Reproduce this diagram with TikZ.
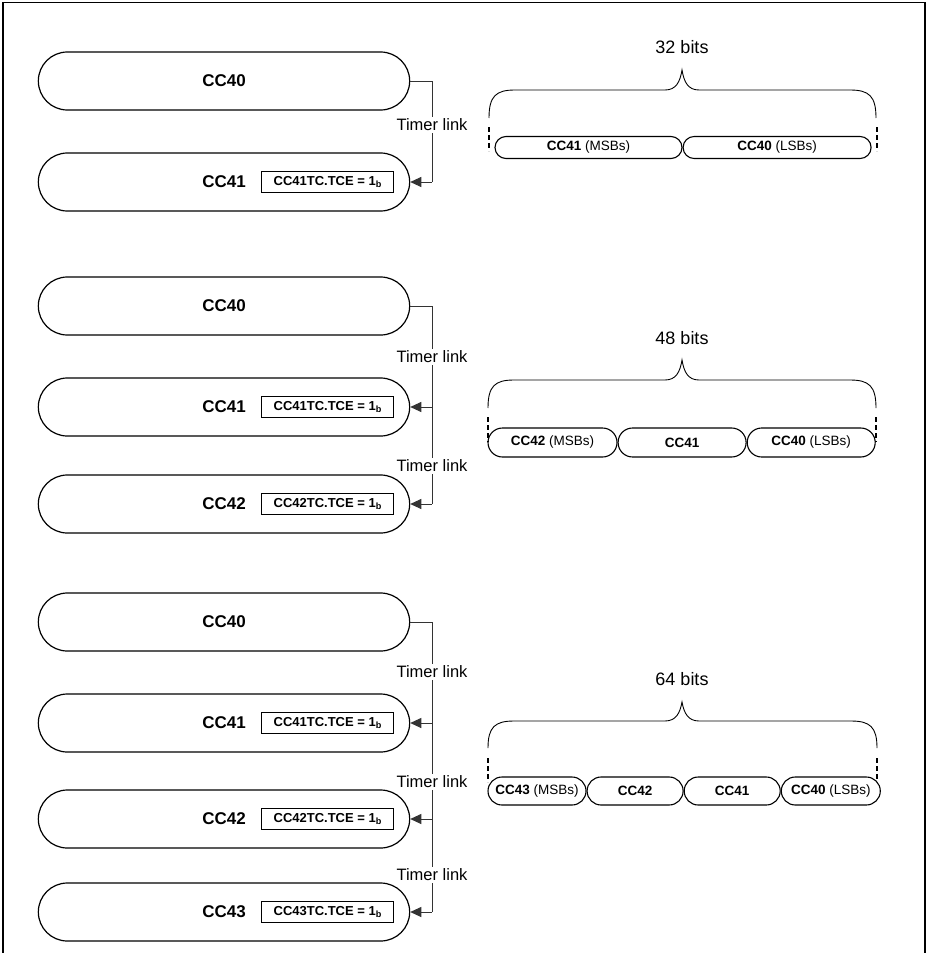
\documentclass[tikz,border=0pt]{standalone}
\usepackage{fontspec}
\setmainfont{Liberation Sans}
\usepackage{tikz}
\usetikzlibrary{shapes.misc, positioning, arrows.meta}

\begin{document}
\begin{tikzpicture}[x=1pt, y=-1pt,
  ccpill/.style={rounded rectangle, draw, line width=1.2pt,
    minimum width=378pt, minimum height=58pt,
    font=\fontsize{17}{20}\selectfont\bfseries},
  tcebox/.style={rectangle, draw, line width=1pt, inner sep=0pt,
    minimum width=132pt, minimum height=21pt,
    font=\fontsize{13}{15}\selectfont\bfseries},
  link/.style={draw=black!80, line width=0.9pt},
  linkarrow/.style={link, -{Triangle[length=11pt, width=10pt]}},
  linklabel/.style={fill=white, inner sep=1.5pt, font=\fontsize{16.5}{18}\selectfont},
  bitpill/.style={rounded rectangle, draw, line width=1.1pt, inner xsep=0pt,
    font=\fontsize{13.5}{15}\selectfont},
  bitlabel/.style={font=\fontsize{18}{20}\selectfont},
  bitbrace/.style={line width=0.9pt},
  edgemark/.style={line width=1.8pt, dash pattern=on 5pt off 3pt}
]
  \useasboundingbox (0,0) rectangle (926,953);
  \draw[line width=1.5pt] (3,953) -- (3,2.5) -- (925,2.5) -- (925,953);

  % 32 bits
  \node[ccpill] (g1c40) at (224,81) {CC40};
  \node[ccpill] (g1c41) at (224,182) {CC41};
  \node[tcebox, left=16pt of g1c41.east] (g1t41) {CC41TC.TCE = 1\textsubscript{b}};
  \coordinate (g1top) at (432,81);
  \draw[link] (g1c40.east) -- (g1top) -- (g1top |- g1c41.east);
  \draw[linkarrow] (g1top |- g1c41.east) -- (g1c41.east);
  \node[linklabel] (g1l1) at (432,125) {Timer link};

  \node[bitlabel] (g1bits) at (682,47) {32 bits};
  \draw[bitbrace] (489,118) .. controls (489,96) and (496,90) .. (515,90) -- (665,90)
    .. controls (676,90) and (680,82) .. (682,70) .. controls (684,82) and (688,90) .. (699,90)
    -- (850,90) .. controls (869,90) and (876,96) .. (876,118);
  \draw[edgemark] (489,127) -- (489,151);
  \draw[edgemark] (877,127) -- (877,151);
  \node[bitpill, minimum width=187pt, minimum height=22pt] (g1b41) at (588.5,147.5) {\textbf{CC41} (MSBs)};
  \node[bitpill, minimum width=188pt, minimum height=22pt, right=0pt of g1b41] (g1b40) {\textbf{CC40} (LSBs)};

  % 48 bits
  \node[ccpill] (g2c40) at (224,306) {CC40};
  \node[ccpill] (g2c41) at (224,407) {CC41};
  \node[tcebox, left=16pt of g2c41.east] (g2t41) {CC41TC.TCE = 1\textsubscript{b}};
  \node[ccpill] (g2c42) at (224,504) {CC42};
  \node[tcebox, left=16pt of g2c42.east] (g2t42) {CC42TC.TCE = 1\textsubscript{b}};
  \coordinate (g2top) at (432,306);
  \draw[link] (g2c40.east) -- (g2top) -- (g2top |- g2c42.east);
  \draw[linkarrow] (g2top |- g2c41.east) -- (g2c41.east);
  \draw[linkarrow] (g2top |- g2c42.east) -- (g2c42.east);
  \node[linklabel] (g2l1) at (432,357) {Timer link};
  \node[linklabel] (g2l2) at (432,466) {Timer link};

  \node[bitlabel] (g2bits) at (682,338) {48 bits};
  \draw[bitbrace] (488,408) .. controls (488,386) and (495,380) .. (514,380) -- (665,380)
    .. controls (676,380) and (680,372) .. (682,360) .. controls (684,372) and (688,380) .. (699,380)
    -- (850,380) .. controls (869,380) and (876,386) .. (876,408);
  \draw[edgemark] (488,417) -- (488,442);
  \draw[edgemark] (876,417) -- (876,442);
  \node[bitpill, minimum width=129pt, minimum height=29pt] (g2b42) at (552.5,442.5) {\textbf{CC42} (MSBs)};
  \node[bitpill, minimum width=128pt, minimum height=29pt, right=0pt of g2b42] (g2b41) {\textbf{CC41}};
  \node[bitpill, minimum width=128pt, minimum height=29pt, right=0pt of g2b41] (g2b40) {\textbf{CC40} (LSBs)};

  % 64 bits
  \node[ccpill] (g3c40) at (224,622) {CC40};
  \node[ccpill] (g3c41) at (224,723) {CC41};
  \node[tcebox, left=16pt of g3c41.east] (g3t41) {CC41TC.TCE = 1\textsubscript{b}};
  \node[ccpill] (g3c42) at (224,819) {CC42};
  \node[tcebox, left=16pt of g3c42.east] (g3t42) {CC42TC.TCE = 1\textsubscript{b}};
  \node[ccpill] (g3c43) at (224,912) {CC43};
  \node[tcebox, left=16pt of g3c43.east] (g3t43) {CC43TC.TCE = 1\textsubscript{b}};
  \coordinate (g3top) at (432,622);
  \draw[link] (g3c40.east) -- (g3top) -- (g3top |- g3c43.east);
  \draw[linkarrow] (g3top |- g3c41.east) -- (g3c41.east);
  \draw[linkarrow] (g3top |- g3c42.east) -- (g3c42.east);
  \draw[linkarrow] (g3top |- g3c43.east) -- (g3c43.east);
  \node[linklabel] (g3l1) at (432,672) {Timer link};
  \node[linklabel] (g3l2) at (432,782) {Timer link};
  \node[linklabel] (g3l3) at (432,875) {Timer link};

  \node[bitlabel] (g3bits) at (682,679) {64 bits};
  \draw[bitbrace] (488,748) .. controls (488,727) and (495,721) .. (514,721) -- (665,721)
    .. controls (676,721) and (680,713) .. (682,702) .. controls (684,713) and (688,721) .. (699,721)
    -- (851,721) .. controls (870,721) and (877,727) .. (877,748);
  \draw[edgemark] (488,758) -- (488,782);
  \draw[edgemark] (877,758) -- (877,782);
  \node[bitpill, minimum width=98pt, minimum height=28pt] (g3b43) at (537,791) {\textbf{CC43} (MSBs)};
  \node[bitpill, minimum width=96pt, minimum height=28pt, right=0pt of g3b43] (g3b42) {\textbf{CC42}};
  \node[bitpill, minimum width=96pt, minimum height=28pt, right=0pt of g3b42] (g3b41) {\textbf{CC41}};
  \node[bitpill, minimum width=99pt, minimum height=28pt, right=0pt of g3b41] (g3b40) {\textbf{CC40} (LSBs)};
\end{tikzpicture}
\end{document}
